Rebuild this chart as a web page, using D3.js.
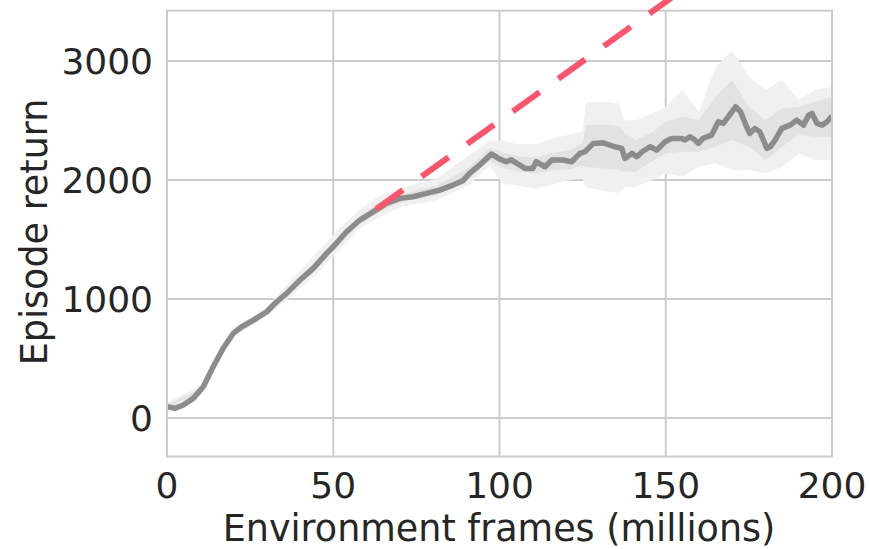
<!DOCTYPE html>
<html>
<head>
<meta charset="utf-8">
<script src="https://cdn.jsdelivr.net/npm/d3@7"></script>
<style>
  html, body { margin: 0; padding: 0; background: #ffffff; }
  svg { display: block; }
  text { font-family: "DejaVu Sans", sans-serif; fill: #262626; }
</style>
</head>
<body>
<svg id="chart" width="870" height="549"></svg>
<script>
// Mean episode return over training (frames in millions)
const frames = [0, 2.4, 4.9, 7.9, 10.9, 13.9, 16.9, 19.9, 22.5, 26, 30, 33, 36, 40, 44, 48, 50, 54, 58, 62,
  66, 70, 74, 78, 82, 86, 89, 91, 94, 97.6, 99.7, 102, 103.5, 105, 107.7, 110, 111, 113.7, 115.7, 119, 121.7,
  124.2, 125.7, 128.2, 131.2, 134.7, 136.8, 137.7, 139.8, 141.3, 143, 145.3, 147.3, 149.8, 151.8, 154.8,
  155.8, 157.3, 158.8, 159.8, 161.2, 163.8, 165.8, 167.3, 168.8, 171, 172.5, 174.3, 175.3, 176.8, 178.3,
  180.4, 181.4, 182.9, 184.9, 187.4, 189.4, 191.4, 193, 194, 195.5, 197, 198.5, 200];
const meanReturn = [95, 81, 109, 165, 263, 431, 586, 711, 767, 823, 893, 977, 1048, 1160, 1258, 1384, 1439, 1566, 1664, 1733,
  1804, 1846, 1860, 1888, 1916, 1958, 1995, 2056, 2126, 2218, 2182, 2154, 2170, 2145, 2098, 2098, 2154, 2112, 2168, 2168, 2154,
  2224, 2238, 2308, 2313, 2280, 2266, 2182, 2224, 2196, 2240, 2280, 2252, 2322, 2350, 2350,
  2336, 2364, 2336, 2308, 2350, 2378, 2490, 2476, 2532, 2616, 2574, 2448, 2392, 2434, 2406,
  2266, 2280, 2336, 2434, 2462, 2504, 2462, 2546, 2560, 2476, 2462, 2490, 2538];

// Spread across runs: inner and outer bands
const bandFrames = [0, 10, 20, 30, 38, 45, 52, 58, 64, 71, 81, 91, 97, 101, 106, 111, 116, 121, 125, 126,
  131, 136, 137.5, 141, 146, 150, 155, 160, 165, 170, 175, 180, 185, 190, 195, 200];
const outerLow  = [70, 210, 680, 855, 1040, 1210, 1420, 1590, 1690, 1780, 1830, 1960, 2120, 1970, 1950, 1930, 1960, 2000, 2010, 1940,
  1910, 1890, 1940, 1944, 2000, 2056, 2028, 2112, 2140, 2084, 2084, 2056, 2112, 2224, 2168, 2168];
const innerLow  = [85, 225, 700, 878, 1080, 1255, 1465, 1635, 1735, 1820, 1870, 2010, 2160, 2100, 2070, 2060, 2080, 2090, 2120, 2110,
  2100, 2085, 2070, 2070, 2160, 2224, 2238, 2238, 2280, 2336, 2280, 2168, 2280, 2378, 2364, 2364];
const innerHigh = [110, 245, 725, 910, 1135, 1330, 1540, 1700, 1810, 1885, 1950, 2110, 2270, 2230, 2200, 2190, 2230, 2250, 2310, 2460,
  2470, 2450, 2400, 2336, 2400, 2490, 2532, 2504, 2700, 2840, 2616, 2504, 2602, 2616, 2658, 2700];
const outerHigh = [130, 265, 750, 935, 1180, 1390, 1600, 1750, 1870, 1940, 2010, 2210, 2330, 2330, 2300, 2300, 2350, 2380, 2410, 2650,
  2660, 2645, 2500, 2504, 2560, 2616, 2756, 2574, 2952, 3092, 2868, 2756, 2840, 2672, 2756, 2784];

// Linear projection of the early learning rate
const trendFrames = [62.9, 160];
const trendReturn = [1756, 3698];

const xTicks = [0, 50, 100, 150, 200];
const yTicks = [0, 1000, 2000, 3000];

const svg = d3.select("#chart");
const plot = { left: 167, right: 832, top: 10.7, bottom: 456.5 };

const x = d3.scaleLinear().domain([0, 200]).range([plot.left, plot.right]);
const y = d3.scaleLinear().domain([-323.5, 3423.5]).range([plot.bottom, plot.top]);

svg.append("defs").append("clipPath").attr("id", "plotClip")
  .append("rect")
  .attr("x", plot.left).attr("y", plot.top)
  .attr("width", plot.right - plot.left).attr("height", plot.bottom - plot.top);

// Grid
const grid = svg.append("g");
grid.selectAll(".gx").data(xTicks).join("line")
  .attr("x1", d => x(d)).attr("x2", d => x(d))
  .attr("y1", plot.top).attr("y2", plot.bottom)
  .attr("stroke", "#cccccc").attr("stroke-width", 2);
grid.selectAll(".gy").data(yTicks).join("line")
  .attr("x1", plot.left).attr("x2", plot.right)
  .attr("y1", d => y(d)).attr("y2", d => y(d))
  .attr("stroke", "#cccccc").attr("stroke-width", 2);

// Bands and mean line
const body = svg.append("g").attr("clip-path", "url(#plotClip)");
const bandIdx = d3.range(bandFrames.length);
body.append("path").datum(bandIdx)
  .attr("fill", "#f0f0f0")
  .attr("d", d3.area().x(i => x(bandFrames[i])).y0(i => y(outerLow[i])).y1(i => y(outerHigh[i])));
body.append("path").datum(bandIdx)
  .attr("fill", "#e2e2e2")
  .attr("d", d3.area().x(i => x(bandFrames[i])).y0(i => y(innerLow[i])).y1(i => y(innerHigh[i])));
body.append("path").datum(d3.range(frames.length))
  .attr("fill", "none")
  .attr("stroke", "#8c8c8c")
  .attr("stroke-width", 5.5)
  .attr("stroke-linejoin", "round")
  .attr("d", d3.line().x(i => x(frames[i])).y(i => y(meanReturn[i])));

// Spines
svg.append("rect")
  .attr("x", plot.left).attr("y", plot.top)
  .attr("width", plot.right - plot.left).attr("height", plot.bottom - plot.top)
  .attr("fill", "none").attr("stroke", "#cccccc").attr("stroke-width", 2);

// Projection line (drawn past the top of the axes)
svg.append("path").datum(d3.range(trendFrames.length))
  .attr("fill", "none")
  .attr("stroke", "#fa556e")
  .attr("stroke-width", 6)
  .attr("stroke-dasharray", "33,23")
  .attr("d", d3.line().x(i => x(trendFrames[i])).y(i => y(trendReturn[i])));

// Tick labels
svg.append("g").selectAll("text").data(xTicks).join("text")
  .attr("x", d => x(d)).attr("y", 498)
  .attr("text-anchor", "middle")
  .attr("font-size", 36)
  .text(d => d);
svg.append("g").selectAll("text").data(yTicks).join("text")
  .attr("x", 153).attr("y", d => y(d))
  .attr("dy", "0.36em")
  .attr("text-anchor", "end")
  .attr("font-size", 36)
  .text(d => d);

// Axis titles
svg.append("text")
  .attr("x", (plot.left + plot.right) / 2 - 0.5).attr("y", 541)
  .attr("text-anchor", "middle")
  .attr("font-size", 36.5)
  .text("Environment frames (millions)");
svg.append("text")
  .attr("transform", "translate(47,232) rotate(-90)")
  .attr("text-anchor", "middle")
  .attr("font-size", 36.5)
  .text("Episode return");
</script>
</body>
</html>
